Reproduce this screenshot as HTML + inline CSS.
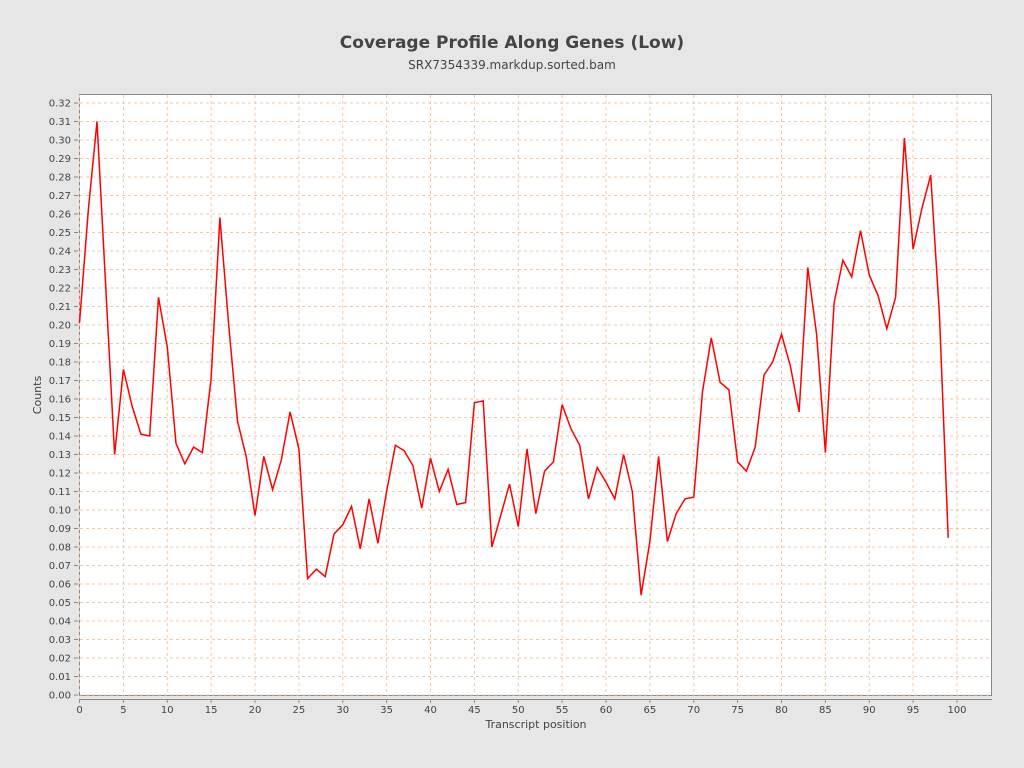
<!DOCTYPE html><html><head><style>body{margin:0;background:#e6e6e6;font-family:"Liberation Sans","DejaVu Sans",sans-serif}</style></head><body>
<svg id="s" width="1024" height="768" xmlns="http://www.w3.org/2000/svg" style="display:block">
<rect width="1024" height="768" fill="#e6e6e6"/>
<text x="512" y="48" text-anchor="middle" font-size="17" font-weight="bold" fill="#444" font-family="DejaVu Sans, sans-serif">Coverage Profile Along Genes (Low)</text>
<text x="512" y="69" text-anchor="middle" font-size="12" fill="#444" font-family="DejaVu Sans, sans-serif">SRX7354339.markdup.sorted.bam</text>
<rect x="79.5" y="94.5" width="912" height="601" fill="#fff" stroke="#888"/>
<g id="g"></g>
<text x="41" y="395" text-anchor="middle" font-size="11" fill="#444" transform="rotate(-90 41 395)" font-family="DejaVu Sans, sans-serif">Counts</text>
<text x="536" y="728" text-anchor="middle" font-size="11" fill="#444" font-family="DejaVu Sans, sans-serif">Transcript position</text>
</svg>
<script>
var d=[0.201,0.262,0.31,0.22,0.130,0.176,0.156,0.141,0.140,0.215,0.188,0.136,0.125,0.134,0.131,0.171,0.258,0.2,0.148,0.129,0.097,0.129,0.111,0.127,0.153,0.133,0.063,0.068,0.064,0.087,0.092,0.102,0.079,0.106,0.082,0.110,0.135,0.132,0.124,0.101,0.128,0.110,0.122,0.103,0.104,0.158,0.159,0.080,0.097,0.114,0.091,0.133,0.098,0.121,0.126,0.157,0.144,0.135,0.106,0.123,0.115,0.106,0.130,0.110,0.054,0.083,0.129,0.083,0.098,0.106,0.107,0.164,0.193,0.169,0.165,0.126,0.121,0.134,0.173,0.180,0.195,0.178,0.153,0.231,0.195,0.131,0.212,0.235,0.226,0.251,0.227,0.216,0.198,0.215,0.301,0.241,0.263,0.281,0.205,0.085];
function X(i){return 79.5+i*8.775}function Y(v){return 695-v*1850}
var h='',ns='font-family="DejaVu Sans, sans-serif" font-size="10" fill="#444"';
for(var k=0;k<=32;k++){var y=Y(k/100).toFixed(1);
h+='<line x1="80" x2="991" y1="'+y+'" y2="'+y+'" stroke="#f0c8a8" stroke-dasharray="3,3"/>';
h+='<line x1="74" x2="78" y1="'+y+'" y2="'+y+'" stroke="#888"/>';
h+='<text x="71" y="'+(+y+3.5)+'" text-anchor="end" '+ns+'>'+(k/100).toFixed(2)+'</text>';}
for(var i=0;i<=100;i+=5){var x=X(i).toFixed(1);
h+='<line y1="95" y2="695" x1="'+x+'" x2="'+x+'" stroke="#f0c8a8" stroke-dasharray="3,3"/>';
h+='<line y1="699" y2="703" x1="'+x+'" x2="'+x+'" stroke="#888"/>';
h+='<text y="713" x="'+x+'" text-anchor="middle" '+ns+'>'+i+'</text>';}
h+='<line x1="79" x2="992" y1="699.5" y2="699.5" stroke="#888"/>';
h+='<polyline fill="none" stroke="#ff0000" stroke-width="1.5" points="'+d.map(function(v,i){return X(i).toFixed(1)+','+Y(v).toFixed(1)}).join(' ')+'"/>';
document.getElementById('g').innerHTML=h;
</script>
</body></html>
